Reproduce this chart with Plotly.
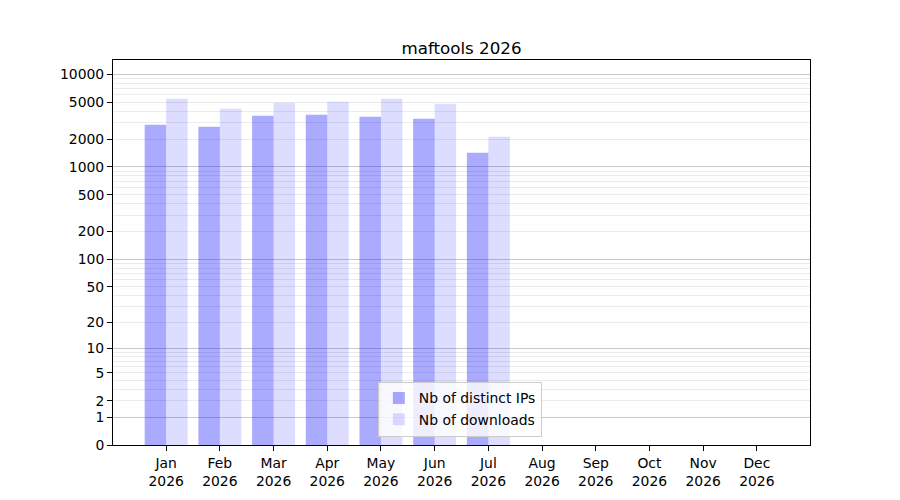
import plotly.graph_objects as go

# monthly stats
months = ["Jan", "Feb", "Mar", "Apr", "May", "Jun",
          "Jul", "Aug", "Sep", "Oct", "Nov", "Dec"]
year = "2026"
distinct_ips = [2865, 2726, 3582, 3673, 3494, 3326, 1429, 0, 0, 0, 0, 0]
downloads = [5466, 4265, 4950, 5073, 5466, 4829, 2126, 0, 0, 0, 0, 0]

y_tick_labels = [0, 1, 2, 5, 10, 20, 50, 100, 200, 500, 1000, 2000, 5000, 10000]
y_major_grid = [1, 10, 100, 1000, 10000]
y_minor_grid = [m * 10 ** k for k in range(4) for m in range(2, 10)]

FONT = "DejaVu Sans"

# the y scale is log10(1 + n): shown on a log axis with n + 1
x = list(range(len(months)))
fig = go.Figure()
fig.add_trace(go.Bar(x=x, y=[v + 1 for v in distinct_ips], name="Nb of distinct IPs",
                     marker=dict(color="rgba(0,0,255,0.333)", line=dict(width=0))))
fig.add_trace(go.Bar(x=x, y=[v + 1 for v in downloads], name="Nb of downloads",
                     marker=dict(color="rgba(0,0,255,0.135)", line=dict(width=0))))
# invisible trace so the overlay axis (dark grid) gets drawn
fig.add_trace(go.Scatter(x=[0], y=[1], yaxis="y2", mode="markers",
                         marker=dict(opacity=0), showlegend=False, hoverinfo="skip"))

# page body has an 8px margin, so the figure is a bit smaller than the window
y_range = [0, 4.155]
fig.update_layout(
    width=892, height=492,
    paper_bgcolor="white", plot_bgcolor="rgba(0,0,0,0)",
    font=dict(family=FONT, size=13.9, color="black"),
    margin=dict(l=105, r=90, t=52, b=55, autoexpand=False),
    barmode="group", bargap=0.2, bargroupgap=0,
    title=dict(text="maftools " + year, x=0.5, xref="paper", y=1, yref="paper",
               xanchor="center", yanchor="bottom", pad=dict(b=6), automargin=False,
               font=dict(family=FONT, size=16.7, color="black")),
    xaxis=dict(range=[-0.99, 11.99], tickvals=x,
               ticktext=[m + "<br>" + year for m in months],
               ticks="outside", ticklen=5, tickcolor="black", automargin=False,
               showline=True, linecolor="black", linewidth=1, mirror=True,
               showgrid=False, zeroline=False),
    yaxis=dict(type="log", range=y_range,
               tickvals=[v + 1 for v in y_tick_labels],
               ticktext=[str(v) for v in y_tick_labels],
               ticks="outside", ticklen=5, tickcolor="black", automargin=False,
               showline=True, linecolor="black", linewidth=1, mirror=True,
               showgrid=False, zeroline=False,
               minor=dict(tickvals=[v + 1 for v in y_minor_grid], ticks="",
                          showgrid=True, gridcolor="#ebebeb", gridwidth=1)),
    yaxis2=dict(type="log", range=y_range, overlaying="y", side="left",
                tickvals=[v + 1 for v in y_major_grid], showticklabels=False,
                ticks="", showgrid=True, gridcolor="#c9c9c9", gridwidth=1,
                zeroline=False, showline=False, automargin=False),
    legend=dict(x=0.38, y=0.022, xanchor="left", yanchor="bottom",
                bgcolor="rgba(255,255,255,0.8)", bordercolor="#cccccc", borderwidth=1,
                font=dict(family=FONT, size=13.9, color="black")),
)

fig.write_html("out.html")
